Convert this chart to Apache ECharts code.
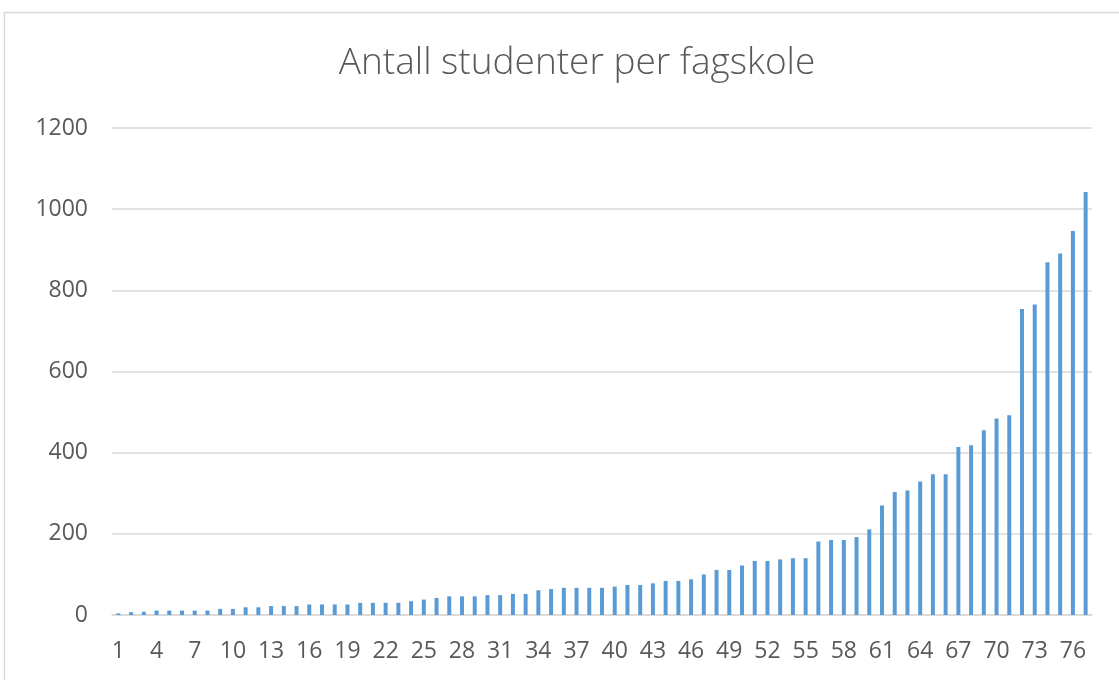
<!DOCTYPE html>
<html>
<head>
<meta charset="utf-8">
<script src="https://cdn.jsdelivr.net/npm/echarts@6/dist/echarts.min.js"></script>
<style>
  html, body { margin: 0; padding: 0; background: #fff; }
  #main { width: 1119px; height: 680px; }
</style>
</head>
<body>
<div id="main"></div>
<script>
// skole 1..77, sortert etter antall studenter
const skoler = [];
for (let i = 1; i <= 77; i++) skoler.push(String(i));

const antallStudenter = [
  4, 7, 8, 11, 11, 11, 11, 11, 15, 15,
  19, 19, 22, 22, 22, 26, 26, 26, 26, 30,
  30, 30, 30, 34, 38, 42, 46, 46, 46, 49,
  49, 52, 52, 61, 64, 67, 67, 67, 67, 70,
  74, 74, 78, 84, 84, 88, 100, 111, 111, 122,
  133, 133, 137, 140, 140, 181, 185, 185, 192, 211,
  270, 303, 307, 329, 347, 347, 414, 418, 455, 484,
  492, 754, 765, 869, 891, 946, 1042
];

const tittel = "Antall studenter per fagskole";

const chart = echarts.init(document.getElementById("main"));
chart.setOption({
  animation: false,
  backgroundColor: "#ffffff",
  title: {
    text: tittel,
    left: 572,
    top: 40,
    textAlign: "center",
    textStyle: {
      fontFamily: "Open Sans",
      fontWeight: 300,
      fontSize: 37,
      color: "#595959",
    },
  },
  graphic: [
    {
      type: "rect",
      shape: { x: 4.5, y: 12.5, width: 2000, height: 2000 },
      style: { fill: "none", stroke: "#d9d9d9", lineWidth: 1.5 },
      silent: true,
    },
  ],
  grid: {
    left: 112,
    right: 27,
    top: 128,
    bottom: 65,
  },
  xAxis: {
    type: "category",
    data: skoler,
    axisLine: { lineStyle: { color: "#d9d9d9", width: 1.5 } },
    axisTick: { show: false },
    axisLabel: {
      interval: 2,
      margin: 25,
      fontFamily: "Open Sans",
      fontSize: 23,
      color: "#595959",
    },
  },
  yAxis: {
    type: "value",
    min: 0,
    max: 1200,
    interval: 200,
    axisLine: { show: false },
    axisTick: { show: false },
    splitLine: { lineStyle: { color: "#d9d9d9", width: 1.5 } },
    axisLabel: {
      margin: 24,
      formatter: (v) => String(v),
      fontFamily: "Open Sans",
      fontSize: 23,
      color: "#595959",
    },
  },
  series: [
    {
      type: "bar",
      data: antallStudenter,
      barWidth: 4,
      itemStyle: { color: "#5b9bd5" },
    },
  ],
});
</script>
</body>
</html>
